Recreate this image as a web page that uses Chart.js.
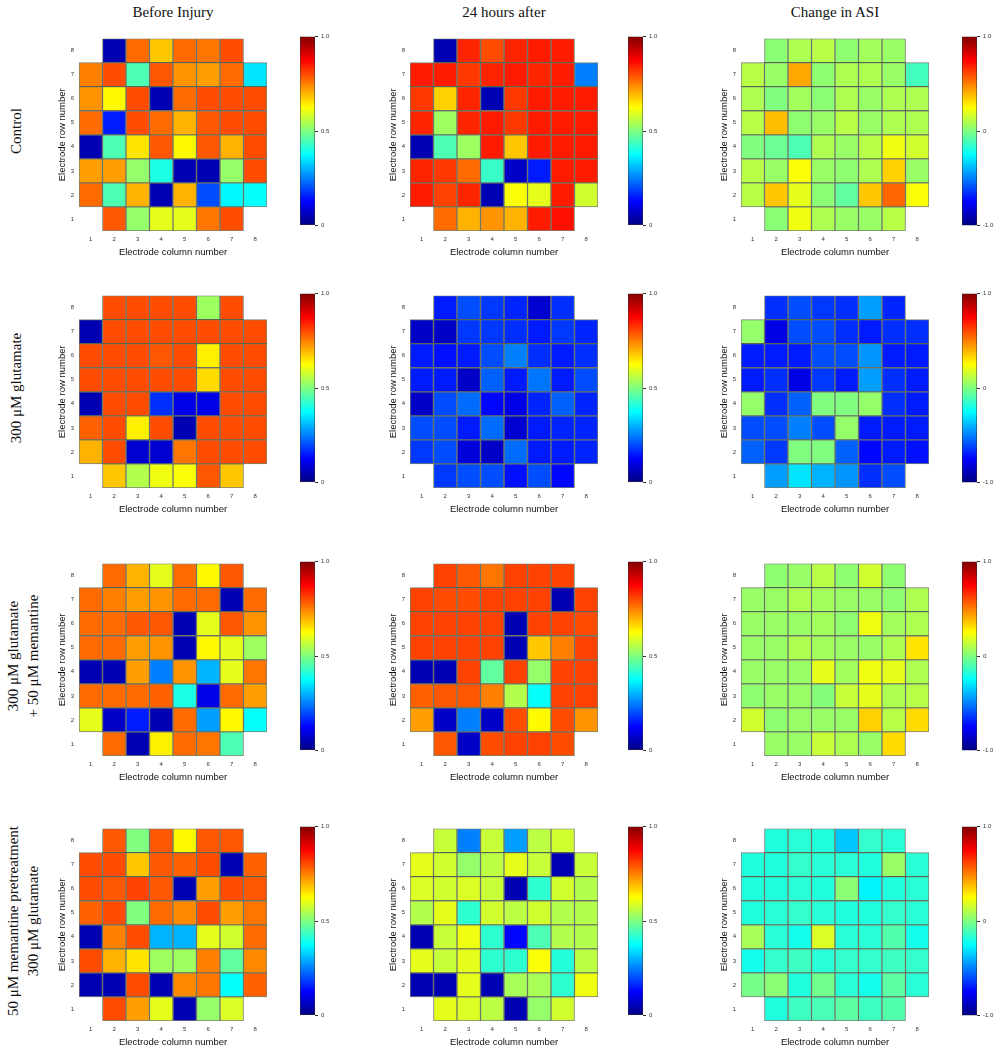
<!DOCTYPE html>
<html>
<head>
<meta charset="utf-8">
<script src="https://cdn.jsdelivr.net/npm/chart.js@4.4.1/dist/chart.umd.min.js"></script>
<style>
  body { margin: 0; background: #fff; width: 1003px; height: 1050px; position: relative; overflow: hidden;
         font-family: "Liberation Serif", "Times New Roman", serif; color: #111; }
  canvas { position: absolute; }
  .coltitle { position: absolute; font-size: 15px; text-align: center; width: 220px; line-height: 18px; }
  .rowtitle { position: absolute; font-size: 15px; text-align: center; width: 320px; line-height: 20px;
              transform: rotate(-90deg); white-space: nowrap; }
</style>
</head>
<body>
<script>
// electrode grid labels
const columnLabels = ['1', '2', '3', '4', '5', '6', '7', '8'];
const rowNumbers = [1, 2, 3, 4, 5, 6, 7, 8];
const ratioTicks = [0, 0.5, 1];
const changeTicks = [-1, 0, 1];
const columnTitles = ['Before Injury', '24 hours after', 'Change in ASI'];
const groupTitles = [
  ['Control'],
  ['300 \u03bcM glutamate'],
  ['300 \u03bcM glutamate', '+ 50 \u03bcM memantine'],
  ['50 \u03bcM memantine pretreatment', '300 \u03bcM glutamate']
];

// each grid: first line is electrode row 8 (top), last line row 1; columns 1..8
const controlBefore = [
  [null, 0.05, 0.77, 0.68, 0.77, 0.76, 0.80, null],
  [0.75, 0.80, 0.45, 0.79, 0.73, 0.72, 0.77, 0.35],
  [0.73, 0.63, 0.80, 0.05, 0.77, 0.80, 0.80, 0.80],
  [0.77, 0.15, 0.80, 0.77, 0.70, 0.79, 0.80, 0.80],
  [0.05, 0.45, 0.65, 0.79, 0.63, 0.79, 0.70, 0.80],
  [0.72, 0.72, 0.52, 0.40, 0.05, 0.05, 0.52, 0.80],
  [0.77, 0.45, 0.70, 0.05, 0.70, 0.20, 0.37, 0.38],
  [null, 0.79, 0.52, 0.60, 0.60, 0.76, 0.80, null]
];
const controlAfter = [
  [null, 0.05, 0.84, 0.80, 0.84, 0.85, 0.85, null],
  [0.85, 0.85, 0.82, 0.84, 0.85, 0.84, 0.85, 0.25],
  [0.82, 0.67, 0.84, 0.05, 0.82, 0.85, 0.85, 0.85],
  [0.84, 0.53, 0.84, 0.85, 0.82, 0.85, 0.85, 0.85],
  [0.05, 0.45, 0.53, 0.85, 0.68, 0.85, 0.85, 0.85],
  [0.84, 0.82, 0.77, 0.43, 0.07, 0.15, 0.85, 0.85],
  [0.85, 0.81, 0.84, 0.05, 0.62, 0.60, 0.85, 0.58],
  [null, 0.77, 0.70, 0.73, 0.70, 0.85, 0.86, null]
];
const controlChange = [
  [null, 0.02, 0.09, 0.11, 0.03, 0.07, 0.05, null],
  [0.11, 0.05, 0.42, 0.03, 0.09, 0.09, 0.05, -0.12],
  [0.09, 0.00, 0.07, 0.02, 0.09, 0.05, 0.09, 0.09],
  [0.11, 0.38, 0.03, 0.05, 0.11, 0.05, 0.09, 0.09],
  [0.00, -0.04, -0.10, 0.09, 0.05, 0.11, 0.22, 0.16],
  [0.11, 0.05, 0.24, 0.05, 0.03, 0.09, 0.34, 0.05],
  [0.11, 0.36, 0.20, 0.02, -0.06, 0.36, 0.55, 0.24],
  [null, 0.02, 0.22, 0.09, 0.05, 0.05, 0.11, null]
];
const glutamateBefore = [
  [null, 0.80, 0.80, 0.80, 0.80, 0.53, 0.80, null],
  [0.05, 0.80, 0.80, 0.80, 0.80, 0.80, 0.80, 0.80],
  [0.80, 0.80, 0.80, 0.79, 0.80, 0.64, 0.80, 0.80],
  [0.80, 0.80, 0.80, 0.80, 0.80, 0.66, 0.80, 0.80],
  [0.05, 0.80, 0.80, 0.17, 0.10, 0.10, 0.80, 0.80],
  [0.78, 0.80, 0.64, 0.80, 0.05, 0.80, 0.80, 0.80],
  [0.70, 0.80, 0.08, 0.08, 0.76, 0.80, 0.80, 0.80],
  [null, 0.68, 0.55, 0.61, 0.62, 0.79, 0.68, null]
];
const glutamateAfter = [
  [null, 0.15, 0.20, 0.18, 0.16, 0.08, 0.17, null],
  [0.07, 0.07, 0.18, 0.18, 0.17, 0.15, 0.18, 0.16],
  [0.15, 0.14, 0.15, 0.20, 0.25, 0.17, 0.15, 0.17],
  [0.15, 0.15, 0.07, 0.22, 0.15, 0.24, 0.15, 0.20],
  [0.07, 0.20, 0.23, 0.13, 0.10, 0.16, 0.22, 0.16],
  [0.20, 0.20, 0.15, 0.23, 0.08, 0.15, 0.16, 0.16],
  [0.18, 0.20, 0.09, 0.07, 0.23, 0.15, 0.15, 0.16],
  [null, 0.18, 0.20, 0.20, 0.14, 0.20, 0.13, null]
];
const glutamateChange = [
  [null, -0.66, -0.60, -0.64, -0.66, -0.44, -0.68, null],
  [0.04, -0.80, -0.60, -0.60, -0.66, -0.70, -0.66, -0.66],
  [-0.70, -0.70, -0.70, -0.60, -0.60, -0.46, -0.70, -0.70],
  [-0.70, -0.66, -0.80, -0.64, -0.70, -0.44, -0.66, -0.70],
  [0.04, -0.66, -0.56, 0.00, 0.00, 0.04, -0.66, -0.70],
  [-0.60, -0.60, -0.50, -0.60, 0.04, -0.70, -0.70, -0.70],
  [-0.56, -0.64, 0.00, 0.00, -0.56, -0.74, -0.70, -0.72],
  [null, -0.44, -0.30, -0.40, -0.46, -0.66, -0.60, null]
];
const memantineBefore = [
  [null, 0.77, 0.70, 0.60, 0.77, 0.63, 0.79, null],
  [0.77, 0.75, 0.72, 0.73, 0.77, 0.77, 0.05, 0.77],
  [0.77, 0.77, 0.79, 0.79, 0.05, 0.60, 0.79, 0.73],
  [0.77, 0.77, 0.72, 0.73, 0.05, 0.63, 0.60, 0.53],
  [0.05, 0.05, 0.72, 0.25, 0.73, 0.30, 0.60, 0.76],
  [0.77, 0.77, 0.77, 0.78, 0.40, 0.10, 0.77, 0.72],
  [0.60, 0.07, 0.15, 0.05, 0.77, 0.28, 0.63, 0.38],
  [null, 0.77, 0.05, 0.64, 0.77, 0.76, 0.45, null]
];
const memantineAfter = [
  [null, 0.81, 0.79, 0.76, 0.81, 0.81, 0.81, null],
  [0.81, 0.80, 0.80, 0.81, 0.81, 0.81, 0.05, 0.81],
  [0.81, 0.81, 0.81, 0.81, 0.05, 0.81, 0.81, 0.80],
  [0.81, 0.81, 0.81, 0.81, 0.05, 0.68, 0.75, 0.81],
  [0.05, 0.05, 0.81, 0.47, 0.81, 0.52, 0.81, 0.81],
  [0.78, 0.79, 0.79, 0.75, 0.55, 0.38, 0.81, 0.81],
  [0.72, 0.07, 0.25, 0.07, 0.80, 0.63, 0.80, 0.73],
  [null, 0.79, 0.07, 0.80, 0.81, 0.81, 0.80, null]
];
const memantineChange = [
  [null, 0.03, 0.05, 0.11, 0.03, 0.16, 0.03, null],
  [0.05, 0.05, 0.09, 0.07, 0.05, 0.05, 0.03, 0.09],
  [0.05, 0.05, 0.05, 0.07, 0.03, 0.22, 0.07, 0.09],
  [0.05, 0.05, 0.09, 0.07, 0.05, 0.05, 0.09, 0.30],
  [0.05, 0.05, 0.05, 0.20, 0.07, 0.22, 0.20, 0.09],
  [0.03, 0.05, 0.05, 0.01, 0.14, 0.20, 0.09, 0.11],
  [0.16, 0.03, 0.05, 0.05, 0.05, 0.34, 0.11, 0.32],
  [null, 0.05, 0.05, 0.14, 0.09, 0.05, 0.32, null]
];
const pretreatBefore = [
  [null, 0.79, 0.50, 0.79, 0.63, 0.79, 0.79, null],
  [0.80, 0.80, 0.68, 0.79, 0.78, 0.80, 0.05, 0.78],
  [0.80, 0.79, 0.81, 0.79, 0.05, 0.72, 0.80, 0.79],
  [0.78, 0.80, 0.50, 0.77, 0.74, 0.80, 0.72, 0.76],
  [0.05, 0.75, 0.80, 0.30, 0.30, 0.60, 0.58, 0.77],
  [0.80, 0.70, 0.65, 0.53, 0.53, 0.75, 0.47, 0.74],
  [0.05, 0.05, 0.80, 0.05, 0.74, 0.76, 0.38, 0.78],
  [null, 0.80, 0.72, 0.60, 0.05, 0.52, 0.59, null]
];
const pretreatAfter = [
  [null, 0.57, 0.25, 0.57, 0.28, 0.56, 0.58, null],
  [0.60, 0.58, 0.52, 0.56, 0.60, 0.57, 0.05, 0.57],
  [0.59, 0.58, 0.59, 0.57, 0.05, 0.42, 0.58, 0.55],
  [0.55, 0.60, 0.42, 0.58, 0.56, 0.58, 0.55, 0.55],
  [0.05, 0.57, 0.61, 0.42, 0.13, 0.45, 0.55, 0.55],
  [0.60, 0.57, 0.60, 0.42, 0.42, 0.62, 0.41, 0.56],
  [0.05, 0.05, 0.60, 0.05, 0.54, 0.54, 0.42, 0.61],
  [null, 0.60, 0.59, 0.56, 0.05, 0.52, 0.58, null]
];
const pretreatChange = [
  [null, -0.19, -0.17, -0.19, -0.36, -0.15, -0.17, null],
  [-0.19, -0.19, -0.15, -0.17, -0.17, -0.19, 0.05, -0.17],
  [-0.19, -0.19, -0.17, -0.19, 0.02, -0.27, -0.19, -0.17],
  [-0.19, -0.17, -0.15, -0.17, -0.19, -0.19, -0.15, -0.17],
  [0.08, -0.17, -0.21, 0.18, -0.17, -0.17, -0.09, -0.21],
  [-0.21, -0.15, -0.13, -0.17, -0.15, -0.15, -0.13, -0.15],
  [-0.02, 0.02, -0.19, -0.03, -0.17, -0.21, -0.07, -0.17],
  [null, -0.19, -0.13, -0.11, -0.07, -0.13, -0.09, null]
];

const panelGrids = [
  [controlBefore, controlAfter, controlChange],
  [glutamateBefore, glutamateAfter, glutamateChange],
  [memantineBefore, memantineAfter, memantineChange],
  [pretreatBefore, pretreatAfter, pretreatChange]
];

// page geometry (pixels)
const colLeft = [79, 410, 741];
const rowTop = [31, 288, 556, 821];
const cellW = 188, cellH = 200;
const barLeft = [300, 628, 962];
const barW = 15;
const Y_AXIS_W = 22, X_AXIS_H = 27, CB_AXIS_W = 26;

function clamp(v) { return Math.max(0, Math.min(1, v)); }
function jet(t) {
  t = clamp(t);
  const r = clamp(1.5 - Math.abs(4 * t - 3));
  const g = clamp(1.5 - Math.abs(4 * t - 2));
  const b = clamp(1.5 - Math.abs(4 * t - 1));
  return 'rgb(' + Math.round(r * 255) + ',' + Math.round(g * 255) + ',' + Math.round(b * 255) + ')';
}

function addCanvas(left, top, w, h) {
  const c = document.createElement('canvas');
  c.width = w; c.height = h;
  c.style.left = left + 'px'; c.style.top = top + 'px';
  c.style.width = w + 'px'; c.style.height = h + 'px';
  document.body.appendChild(c);
  return c;
}

const sans = 'Liberation Sans, Arial, sans-serif';

function heatmap(left, top, grid, lo, hi) {
  const canvas = addCanvas(left - Y_AXIS_W, top - 1, cellW + Y_AXIS_W + 1, cellH + X_AXIS_H + 1);
  const datasets = rowNumbers.map(function(r) {
    const vals = grid[8 - r];
    return {
      data: vals.map(v => v === null ? null : [r - 0.5, r + 0.5]),
      backgroundColor: vals.map(v => v === null ? 'rgba(0,0,0,0)' : jet((v - lo) / (hi - lo))),
      borderColor: 'rgba(30,45,20,0.6)',
      borderWidth: 1,
      borderSkipped: false,
      grouped: false,
      barPercentage: 1,
      categoryPercentage: 1
    };
  });
  new Chart(canvas, {
    type: 'bar',
    data: { labels: columnLabels, datasets: datasets },
    options: {
      responsive: false,
      animation: false,
      events: [],
      layout: { padding: { top: 1, right: 1, left: 0, bottom: 0 } },
      plugins: { legend: { display: false }, tooltip: { enabled: false } },
      scales: {
        x: {
          grid: { display: false, drawTicks: false },
          border: { display: false },
          ticks: { font: { size: 6, family: sans }, color: '#333', padding: 5, maxRotation: 0 },
          title: { display: true, text: 'Electrode column number', color: '#111',
                   font: { size: 9.5, family: sans }, padding: { top: 1, bottom: 0 } },
          afterFit: function(s) { s.height = X_AXIS_H; }
        },
        y: {
          type: 'linear',
          min: 0.5,
          max: 8.5,
          afterBuildTicks: function(s) { s.ticks = rowNumbers.map(v => ({ value: v })); },
          grid: { display: false, drawTicks: false },
          border: { display: false },
          ticks: { font: { size: 6, family: sans }, color: '#333', padding: 5 },
          title: { display: true, text: 'Electrode row number', color: '#111',
                   font: { size: 9.5, family: sans }, padding: { top: 0, bottom: 1 } },
          afterFit: function(s) { s.width = Y_AXIS_W; }
        }
      }
    }
  });
}

function colorbar(left, top, lo, hi, ticks) {
  const canvas = addCanvas(left, top - 1, barW + CB_AXIS_W, cellH + 2);
  new Chart(canvas, {
    type: 'bar',
    data: {
      labels: [''],
      datasets: [{
        data: [[lo, hi]],
        backgroundColor: function(ctx) {
          const a = ctx.chart.chartArea;
          if (!a) return 'rgba(0,0,0,0)';
          const g = ctx.chart.ctx.createLinearGradient(0, a.bottom, 0, a.top);
          [0, 0.125, 0.375, 0.625, 0.875, 1].forEach(s => g.addColorStop(s, jet(s)));
          return g;
        },
        borderColor: '#333',
        borderWidth: 0.8,
        borderSkipped: false,
        barPercentage: 1,
        categoryPercentage: 1
      }]
    },
    options: {
      responsive: false,
      animation: false,
      events: [],
      layout: { padding: { top: 1, bottom: 1, left: 0, right: 0 } },
      plugins: { legend: { display: false }, tooltip: { enabled: false } },
      scales: {
        x: { display: false },
        y: {
          position: 'right',
          min: lo,
          max: hi,
          afterBuildTicks: function(s) { s.ticks = ticks.map(v => ({ value: v })); },
          grid: { display: true, drawOnChartArea: false, tickLength: 3, color: '#333' },
          border: { display: false },
          ticks: {
            font: { size: 6, family: sans }, color: '#333', padding: 3,
            callback: v => v === 0 ? '0' : v.toFixed(1)
          },
          afterFit: function(s) { s.width = CB_AXIS_W; }
        }
      }
    }
  });
}

// column headings
columnTitles.forEach(function(t, i) {
  const d = document.createElement('div');
  d.className = 'coltitle';
  d.textContent = t;
  d.style.left = (colLeft[i] + cellW / 2 - 110) + 'px';
  d.style.top = '3px';
  document.body.appendChild(d);
});

// row headings, rotated
groupTitles.forEach(function(lines, i) {
  const d = document.createElement('div');
  d.className = 'rowtitle';
  d.innerHTML = lines.join('<br>');
  const h = lines.length * 20;
  const cx = lines.length === 1 ? 16 : 23;
  const cy = rowTop[i] + cellH / 2;
  d.style.left = (cx - 160) + 'px';
  d.style.top = (cy - h / 2) + 'px';
  document.body.appendChild(d);
});

panelGrids.forEach(function(row, i) {
  row.forEach(function(grid, j) {
    const change = j === 2;
    const lo = change ? -1 : 0;
    const hi = 1;
    heatmap(colLeft[j], rowTop[i], grid, lo, hi);
    colorbar(barLeft[j], rowTop[i], lo, hi, change ? changeTicks : ratioTicks);
  });
});
</script>
</body>
</html>
